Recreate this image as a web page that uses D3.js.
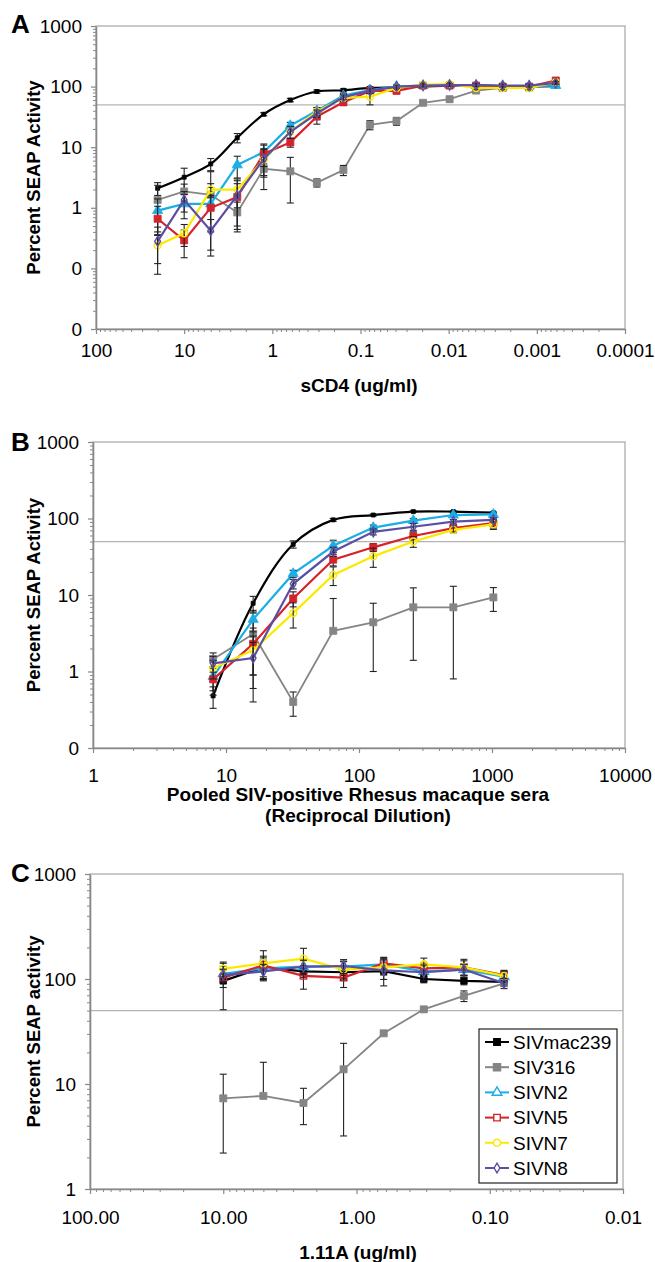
<!DOCTYPE html>
<html><head><meta charset="utf-8">
<script src="https://cdn.jsdelivr.net/npm/d3@7"></script>
<style>
body{margin:0;background:#fff;}
svg text{font-family:"Liberation Sans",Arial,Helvetica,sans-serif;fill:#000;}
</style></head><body>
<svg id="chart" width="655" height="1262"></svg>
<script>
// ---------------- DATA ----------------
const seriesNames = ["SIVmac239","SIV316","SIVN2","SIVN5","SIVN7","SIVN8"];

// Panel A : sCD4 (ug/ml)
const doseA = [20,10,5,2.5,1.25,0.625,0.3125,0.15625,0.078125,0.0390625,0.01953125,0.009765625,0.0048828125,0.00244140625,0.001220703125,0.0006103515625];
const mac239A = [2.1,3.2,5.3,14.3,35,60,83,87,95,97,100,104,104,102,101,102];
const siv316A = [1.35,1.86,1.64,0.84,4.4,4.0,2.6,4.2,23.4,27,54,62,86,95,97,110];
const n2A     = [0.9,1.16,1.16,5.1,8.3,22.7,40,71,88,100,104,106,104,102,102,104];
const n5A     = [0.66,0.29,1.0,1.5,7.8,12,32,55,85,85,104,104,104,100,100,126];
const n7A     = [0.24,0.38,2.0,2.0,6.2,18,39,65,68,95,108,110,95,95,95,118];
const n8A     = [0.28,1.35,0.42,1.6,6.4,18,36,67,85,100,104,106,106,104,104,115];
const mac239Aerr = [0.5,1.3,1.2,2.5,2,4,5,5,5,4,4,4,4,4,4,4];
const siv316Aerr = [1.0,0.6,2.3,0.4,2.4,2.8,0.4,0.8,4,4,3,6,5,5,5,5];
const n2Aerr     = [0.5,0.5,1.0,2.0,3,3,5,6,6,6,6,6,6,6,6,6];
const n5Aerr     = [0.4,0.14,0.6,1.0,3,2,8,6,8,8,6,6,6,6,6,8];
const n7Aerr     = [0.12,0.15,0.5,1.0,3,4,6,8,18,6,6,6,6,6,8,8];
const n8Aerr     = [0.2,0.5,0.22,1.2,3,4,5,6,8,6,6,6,6,6,6,6];
const xTicksA = [100,10,1,0.1,0.01,0.001,0.0001];
const xLabelsA = ["100","10","1","0.1","0.01","0.001","0.0001"];
const yTicksA = [0.01,0.1,1,10,100,1000];
const yLabelsA = ["0","0","1","10","100","1000"];

// Panel B : pooled sera (reciprocal dilution)
const doseB = [8,16,32,64,128,256,512,1024];
const mac239B = [0.48,7.8,46,96,111,123,123,119];
const siv316B = [1.45,3.1,0.4,3.4,4.4,6.9,6.9,9.3];
const n2B     = [0.86,4.8,19,44,76,94,111,113];
const n5B     = [0.79,2.3,9,29,42,59,75,87];
const n7B     = [1.1,1.9,5.8,18.3,32,50,71,84];
const n8B     = [1.28,1.5,14,37,67,78,91,96];
const mac239Berr = [0.15,1.8,5,4,3,3,3,3];
const siv316Berr = [0.3,2.7,0.14,5.6,3.4,5.5,6.1,3.2];
const n2Berr     = [0.3,1.5,2,8,6,6,6,6];
const n5Berr     = [0.3,1.4,2,5,5,8,6,12];
const n7Berr     = [0.3,1.0,2.1,5,9,8,6,12];
const n8Berr     = [0.3,0.9,2,5,6,8,6,6];
const xTicksB = [1,10,100,1000,10000];
const xLabelsB = ["1","10","100","1000","10000"];
const yTicksB = [0.1,1,10,100,1000];
const yLabelsB = ["0","1","10","100","1000"];

// Panel C : 1.11A (ug/ml)
const doseC = [10,5,2.5,1.25,0.625,0.3125,0.15625,0.078125];
const mac239C = [96,129,118,116,119,100,96,94];
const siv316C = [7.3,7.7,6.6,13.8,30.4,51.4,69,91];
const n2C     = [112,126,131,131,138,118,123,105];
const n5C     = [103,135,107,103,141,126,129,109];
const n7C     = [125,141,156,123,129,138,129,107];
const n8C     = [109,118,131,133,121,116,123,91];
const mac239Cerr = [45,30,15,15,10,8,8,8];
const siv316Cerr = [5.1,8.4,2.5,10.6,1,1,8,5];
const n2Cerr     = [20,25,20,15,15,15,15,12];
const n5Cerr     = [20,30,27,20,20,15,20,12];
const n7Cerr     = [20,45,40,25,30,20,25,12];
const n8Cerr     = [15,20,20,20,35,20,15,10];
const xTicksC = [100,10,1,0.1,0.01];
const xLabelsC = ["100.00","10.00","1.00","0.10","0.01"];
const yTicksC = [1,10,100,1000];
const yLabelsC = ["1","10","100","1000"];

const refLevel = 50;

// ---------------- STYLES ----------------
const style = {
  "SIVmac239": {color:"#000000", shape:d3.symbolSquare},
  "SIV316":    {color:"#858585", shape:d3.symbolSquare},
  "SIVN2":     {color:"#1aaee6", shape:d3.symbolTriangle},
  "SIVN5":     {color:"#d5232b", shape:d3.symbolSquare},
  "SIVN7":     {color:"#fbea00", shape:d3.symbolCircle},
  "SIVN8":     {color:"#5b4fa5", shape:d3.symbolDiamond}
};

const svg = d3.select("#chart");
const FONT = '"Liberation Sans",Arial,Helvetica,sans-serif';

function minorTicks(domain){
  const lo = Math.floor(Math.log10(Math.min(...domain)));
  const hi = Math.ceil(Math.log10(Math.max(...domain)));
  const t=[];
  for(let e=lo;e<hi;e++) for(let m=2;m<=9;m++) t.push(m*Math.pow(10,e));
  return t;
}

function drawPanel(cfg){
  const g = svg.append("g");
  const x = d3.scaleLog().domain(cfg.xDomain).range(cfg.xRange);
  const y = d3.scaleLog().domain(cfg.yDomain).range(cfg.yRange);
  const [x0,x1] = cfg.xRange, [yb,yt] = cfg.yRange;

  g.append("rect").attr("x",x0).attr("y",yt).attr("width",x1-x0).attr("height",yb-yt)
    .attr("fill","none").attr("stroke","#a6a6a6").attr("stroke-width",1.2);

  g.append("line").attr("x1",x0).attr("x2",x1).attr("y1",y(refLevel)).attr("y2",y(refLevel))
    .attr("stroke","#b4b4b4").attr("stroke-width",1.2);

  g.append("g").attr("transform",`translate(0,${yb})`)
    .call(d3.axisBottom(x).tickValues(minorTicks(cfg.xDomain)).tickSize(3).tickFormat(""))
    .call(s=>{s.select(".domain").remove(); s.selectAll("line").attr("stroke","#888");});
  g.append("g").attr("transform",`translate(${x0},0)`)
    .call(d3.axisLeft(y).tickValues(minorTicks(cfg.yDomain)).tickSize(3).tickFormat(""))
    .call(s=>{s.select(".domain").remove(); s.selectAll("line").attr("stroke","#888");});

  const xa = g.append("g").attr("transform",`translate(0,${yb})`)
    .call(d3.axisBottom(x).tickValues(cfg.xTicks).tickSize(5).tickPadding(cfg.xPad)
      .tickFormat((d,i)=>cfg.xLabels[i]).tickSizeOuter(0));
  const ya = g.append("g").attr("transform",`translate(${x0},0)`)
    .call(d3.axisLeft(y).tickValues(cfg.yTicks).tickSize(5).tickPadding(9)
      .tickFormat((d,i)=>cfg.yLabels[i]).tickSizeOuter(0));
  [xa,ya].forEach(a=>{
    a.select(".domain").attr("stroke","#888").attr("stroke-width",1.6);
    a.selectAll(".tick line").attr("stroke","#888").attr("stroke-width",1.2);
    a.selectAll("text").attr("font-family",FONT).attr("font-size",19).attr("fill","#000");
  });

  g.append("text").attr("x",11).attr("y",cfg.letterY).attr("font-size",26).attr("font-weight","bold").text(cfg.letter);
  g.append("text").attr("transform",`translate(40,${(yb+yt)/2}) rotate(-90)`)
    .attr("text-anchor","middle").attr("font-size",18.5).attr("font-weight","bold").text(cfg.yTitle);
  cfg.xTitle.forEach((t,i)=>{
    g.append("text").attr("x",cfg.xTitleX).attr("y",cfg.xTitleY + i*21).attr("text-anchor","middle")
      .attr("font-size",19).attr("font-weight","bold").text(t);
  });

  const yMin = Math.min(...cfg.yDomain);
  cfg.series.forEach(s=>{
    const st = style[s.name];
    const pts = cfg.dose.map((d,i)=>({d, v:s.values[i], e:s.errors[i]}));
    const isGray = s.name==="SIV316";
    const lineGen = d3.line().x(p=>x(p.d)).y(p=>y(p.v))
      .curve(s.name==="SIVmac239" && cfg.smoothBlack ? d3.curveCatmullRom.alpha(0.5) : d3.curveLinear);
    g.append("path").datum(pts).attr("d",lineGen).attr("fill","none")
      .attr("stroke",st.color).attr("stroke-width",isGray?1.8:2.2);

    const eg = g.append("g").attr("stroke", "#222").attr("stroke-width",1.1);
    pts.forEach(p=>{
      const cx = x(p.d);
      const up = p.v + p.e, lo = p.v - p.e;
      const yTop = y(up);
      eg.append("line").attr("x1",cx).attr("x2",cx).attr("y1",y(p.v)).attr("y2",yTop);
      eg.append("line").attr("x1",cx-3.5).attr("x2",cx+3.5).attr("y1",yTop).attr("y2",yTop);
      if(lo>0){
        const yl = y(Math.max(lo,yMin));
        eg.append("line").attr("x1",cx).attr("x2",cx).attr("y1",y(p.v)).attr("y2",yl);
        if(lo>=yMin) eg.append("line").attr("x1",cx-3.5).attr("x2",cx+3.5).attr("y1",yl).attr("y2",yl);
      }
    });

    const mk = cfg.markers[s.name];
    g.append("g").selectAll("path").data(pts).join("path")
      .attr("transform",p=>`translate(${x(p.d)},${y(p.v)})`)
      .attr("d",d3.symbol().type(st.shape).size(mk.size))
      .attr("fill",mk.fill ? st.color : "none")
      .attr("stroke",st.color).attr("stroke-width",mk.fill?0.8:1.4);
  });
  return {x,y};
}

function seriesList(vals, errs){
  return seriesNames.map((n,i)=>({name:n, values:vals[i], errors:errs[i]}));
}

const markersAB = {
  "SIVmac239":{size:16, fill:true},
  "SIV316":{size:50, fill:true},
  "SIVN2":{size:45, fill:true},
  "SIVN5":{size:50, fill:true},
  "SIVN7":{size:38, fill:false},
  "SIVN8":{size:28, fill:false}
};
const markersC = {
  "SIVmac239":{size:42, fill:true},
  "SIV316":{size:50, fill:true},
  "SIVN2":{size:40, fill:false},
  "SIVN5":{size:42, fill:false},
  "SIVN7":{size:40, fill:false},
  "SIVN8":{size:28, fill:false}
};

drawPanel({
  letter:"A", letterY:33,
  xDomain:[100,0.0001], xRange:[96,625], yDomain:[0.01,1000], yRange:[329,26],
  xTicks:xTicksA, xLabels:xLabelsA, yTicks:yTicksA, yLabels:yLabelsA, xPad:10,
  yTitle:"Percent SEAP Activity", xTitle:["sCD4 (ug/ml)"], xTitleX:359, xTitleY:392,
  dose:doseA, smoothBlack:true, markers:markersAB,
  series:seriesList([mac239A,siv316A,n2A,n5A,n7A,n8A],[mac239Aerr,siv316Aerr,n2Aerr,n5Aerr,n7Aerr,n8Aerr])
});

drawPanel({
  letter:"B", letterY:451,
  xDomain:[1,10000], xRange:[93,625], yDomain:[0.1,1000], yRange:[748,442],
  xTicks:xTicksB, xLabels:xLabelsB, yTicks:yTicksB, yLabels:yLabelsB, xPad:16,
  yTitle:"Percent SEAP Activity",
  xTitle:["Pooled SIV-positive Rhesus macaque sera","(Reciprocal Dilution)"], xTitleX:358, xTitleY:801,
  dose:doseB, smoothBlack:true, markers:markersAB,
  series:seriesList([mac239B,siv316B,n2B,n5B,n7B,n8B],[mac239Berr,siv316Berr,n2Berr,n5Berr,n7Berr,n8Berr])
});

drawPanel({
  letter:"C", letterY:882,
  xDomain:[100,0.01], xRange:[90,623], yDomain:[1,1000], yRange:[1189,874],
  xTicks:xTicksC, xLabels:xLabelsC, yTicks:yTicksC, yLabels:yLabelsC, xPad:17,
  yTitle:"Percent SEAP activity", xTitle:["1.11A (ug/ml)"], xTitleX:358, xTitleY:1259,
  dose:doseC, smoothBlack:false, markers:markersC,
  series:seriesList([mac239C,siv316C,n2C,n5C,n7C,n8C],[mac239Cerr,siv316Cerr,n2Cerr,n5Cerr,n7Cerr,n8Cerr])
});

const lg = svg.append("g").attr("transform","translate(479,1029)");
lg.append("rect").attr("width",138).attr("height",154).attr("fill","#fff")
  .attr("stroke","#222").attr("stroke-width",1.2);
seriesNames.forEach((n,i)=>{
  const st = style[n], mk = markersC[n];
  const yy = 13 + i*25.2;
  lg.append("line").attr("x1",6).attr("x2",30).attr("y1",yy).attr("y2",yy)
    .attr("stroke",st.color).attr("stroke-width",2);
  lg.append("path").attr("transform",`translate(18,${yy})`)
    .attr("d",d3.symbol().type(st.shape).size(mk.size))
    .attr("fill",mk.fill?st.color:"#fff").attr("stroke",st.color).attr("stroke-width",1.4);
  lg.append("text").attr("x",34).attr("y",yy).attr("dy","0.36em")
    .attr("font-size",19).text(n);
});
</script>
</body></html>
